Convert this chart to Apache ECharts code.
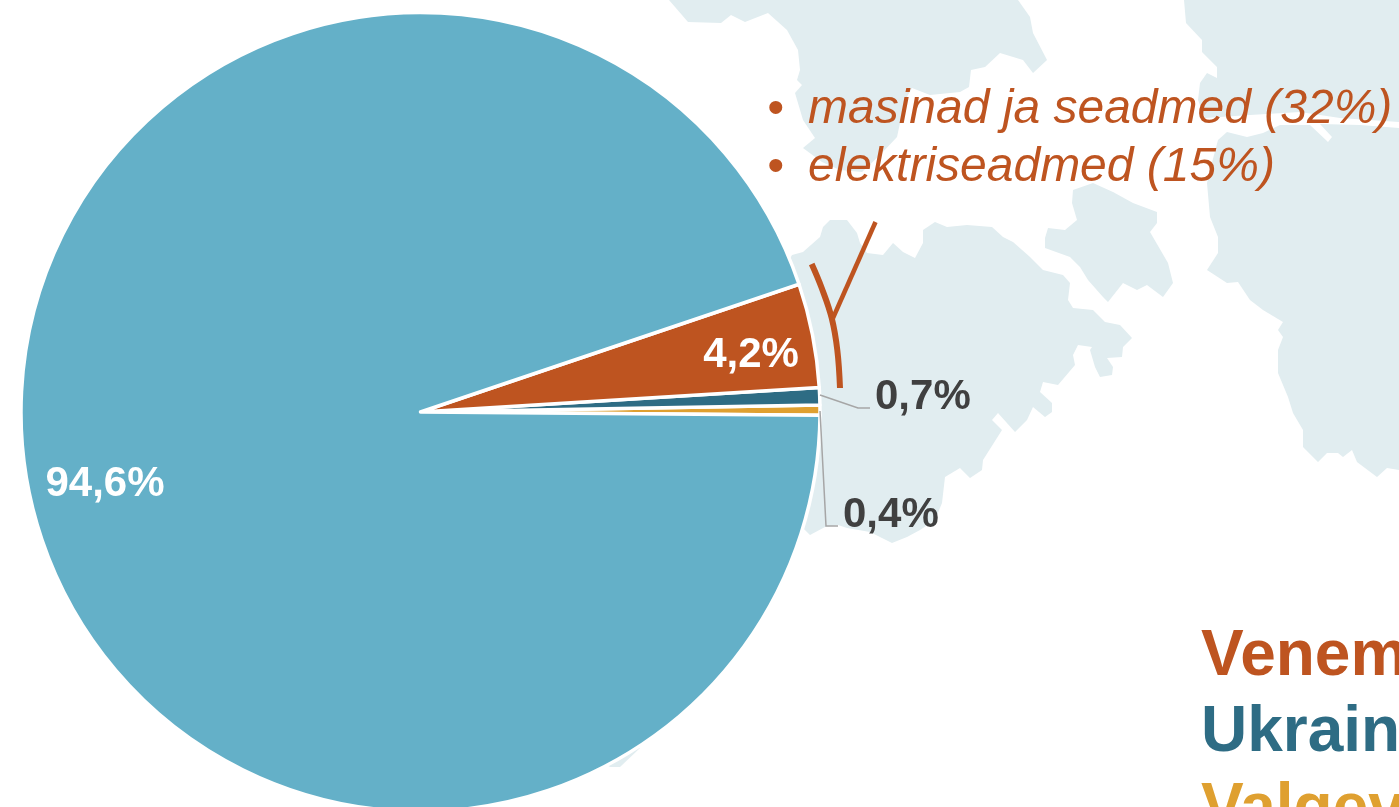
<!DOCTYPE html>
<html>
<head>
<meta charset="utf-8">
<style>html,body{margin:0;padding:0;background:#fff;overflow:hidden}#c{width:1399px;height:807px}</style>
<script src="https://cdn.jsdelivr.net/npm/echarts@6/dist/echarts.min.js"></script>
</head>
<body>
<div id="c"></div>
<script>
const categories = ['Valgevene', 'Ukraina', 'Venemaa', 'Muud riigid'];
const values = [0.4, 0.7, 4.2, 94.6];
const valueLabels = ['0,4%', '0,7%', '4,2%', '94,6%'];
const sliceColors = ['#DFA030', '#2E6C84', '#BE5420', '#64B0C8'];
const bulletItems = ['masinad ja seadmed (32%)', 'elektriseadmed (15%)'];
const legendNames = ['Venemaa', 'Ukraina', 'Valgevene'];
const legendColors = ['#BE5420', '#2E6C84', '#DFA030'];

const LAND = '#E1EDF0', FONT = 'Arial, "Liberation Sans", sans-serif';
const CX = 420.5, CY = 412, R = 399.5;

const landShapes = [
  [[669,0],[688,22],[721,23],[731,15],[745,22],[768,13],[787,30],[798,50],[800,70],[797,80],[802,85],[795,93],[803,120],[815,138],[803,148],[822,162],[840,170],[862,172],[880,155],[897,137],[905,100],[912,88],[930,95],[960,92],[969,87],[971,70],[985,67],[1000,53],[1023,60],[1033,73],[1047,60],[1033,33],[1030,17],[1018,0]],
  [[700,420],[792,255],[803,252],[820,237],[823,227],[830,220],[847,220],[857,233],[860,243],[867,253],[883,255],[893,243],[903,252],[915,258],[923,243],[923,230],[935,222],[947,227],[967,225],[992,227],[1003,237],[1013,242],[1030,257],[1043,270],[1063,275],[1070,283],[1068,300],[1073,308],[1093,310],[1105,322],[1120,325],[1132,338],[1123,347],[1122,357],[1107,358],[1113,367],[1112,375],[1100,377],[1095,367],[1090,350],[1092,347],[1078,345],[1073,355],[1075,365],[1058,385],[1043,382],[1040,392],[1052,403],[1052,412],[1045,417],[1033,407],[1027,420],[1015,432],[998,413],[992,420],[1002,430],[983,460],[982,470],[970,478],[960,468],[945,477],[942,503],[935,520],[920,530],[907,537],[892,543],[880,537],[870,532],[847,528],[838,525],[825,527],[810,535],[803,528],[700,500]],
  [[1073,190],[1093,183],[1113,192],[1133,203],[1157,212],[1157,223],[1150,232],[1168,263],[1173,283],[1163,297],[1147,285],[1137,290],[1123,283],[1108,302],[1103,297],[1088,280],[1080,267],[1070,257],[1045,248],[1045,238],[1048,228],[1065,230],[1077,220],[1072,203]],
  [[1184,0],[1186,23],[1202,40],[1202,52],[1217,67],[1217,78],[1207,73],[1200,83],[1198,100],[1205,118],[1250,115],[1300,112],[1340,118],[1399,122],[1399,0]],
  [[1399,128],[1360,125],[1320,124],[1332,137],[1328,142],[1310,125],[1280,125],[1263,133],[1247,137],[1227,132],[1218,140],[1210,170],[1207,183],[1210,217],[1218,237],[1218,253],[1207,270],[1227,283],[1238,282],[1250,300],[1263,310],[1283,322],[1278,330],[1283,337],[1278,350],[1278,373],[1288,397],[1293,413],[1303,430],[1303,447],[1318,462],[1327,453],[1338,453],[1343,457],[1352,450],[1357,462],[1377,477],[1387,468],[1399,470]],
  [[600,760],[610,767],[620,767],[640,748],[630,745]]
];

const labelPlacement = {
  '94,6%': {x: 105, y: 484, align: 'center', verticalAlign: 'middle'},
  '4,2%':  {x: 751, y: 355, align: 'center', verticalAlign: 'middle'},
  '0,7%':  {x: 875, y: 397, align: 'left', verticalAlign: 'middle'},
  '0,4%':  {x: 843, y: 515, align: 'left', verticalAlign: 'middle'}
};

const pieData = categories.map((name, i) => ({
  name, value: values[i],
  itemStyle: {color: sliceColors[i]},
  label: {color: i < 2 ? '#404040' : '#fff'}
}));

const elements = [];
landShapes.forEach(points => elements.push({
  type: 'polygon', z: 0, shape: {points}, style: {fill: LAND}, silent: true
}));
const text = (x, y, s, font, fill) => ({
  type: 'text', z: 20, x, y,
  style: {text: s, font, fill, textAlign: 'left', textVerticalAlign: 'middle'}
});
bulletItems.forEach((s, i) => {
  const y = 110 + i * 58;
  elements.push(text(767, y, '•', 'italic 48px ' + FONT, '#BE5420'));
  elements.push(text(808, y, s, 'italic 48px ' + FONT, '#BE5420'));
});
legendNames.forEach((s, i) => {
  elements.push(text(1201, 657 + i * 76.5, s, 'bold 64px ' + FONT, legendColors[i]));
});
const stroke = (points, color, lineWidth, smooth) => ({
  type: 'polyline', z: 20, shape: {points, smooth: smooth || 0},
  style: {stroke: color, fill: null, lineWidth}
});
elements.push(stroke([[811.7,264],[821.7,288],[831.7,318],[837.3,350],[840,388]], '#BE5420', 6, 0.4));
elements.push(stroke([[875.5,222],[833,318]], '#BE5420', 4.5));
elements.push(stroke([[820,395],[858,408],[870,408]], '#A6A6A6', 1.5));
elements.push(stroke([[820,411],[826,526],[838,526]], '#A6A6A6', 1.5));

const chart = echarts.init(document.getElementById('c'), null, {renderer: 'canvas'});
chart.setOption({
  animation: false,
  backgroundColor: '#fff',
  graphic: {elements},
  series: [{
    type: 'pie',
    z: 5,
    center: [CX, CY],
    radius: [0, R],
    startAngle: -0.45,
    clockwise: false,
    silent: true,
    data: pieData,
    itemStyle: {borderColor: '#fff', borderWidth: 3.5, borderJoin: 'round'},
    label: {
      show: true, position: 'inside',
      formatter: p => valueLabels[p.dataIndex],
      fontFamily: FONT, fontWeight: 'bold', fontSize: 42
    },
    labelLine: {show: false},
    labelLayout: p => labelPlacement[valueLabels[p.dataIndex]]
  }]
});
</script>
</body>
</html>
